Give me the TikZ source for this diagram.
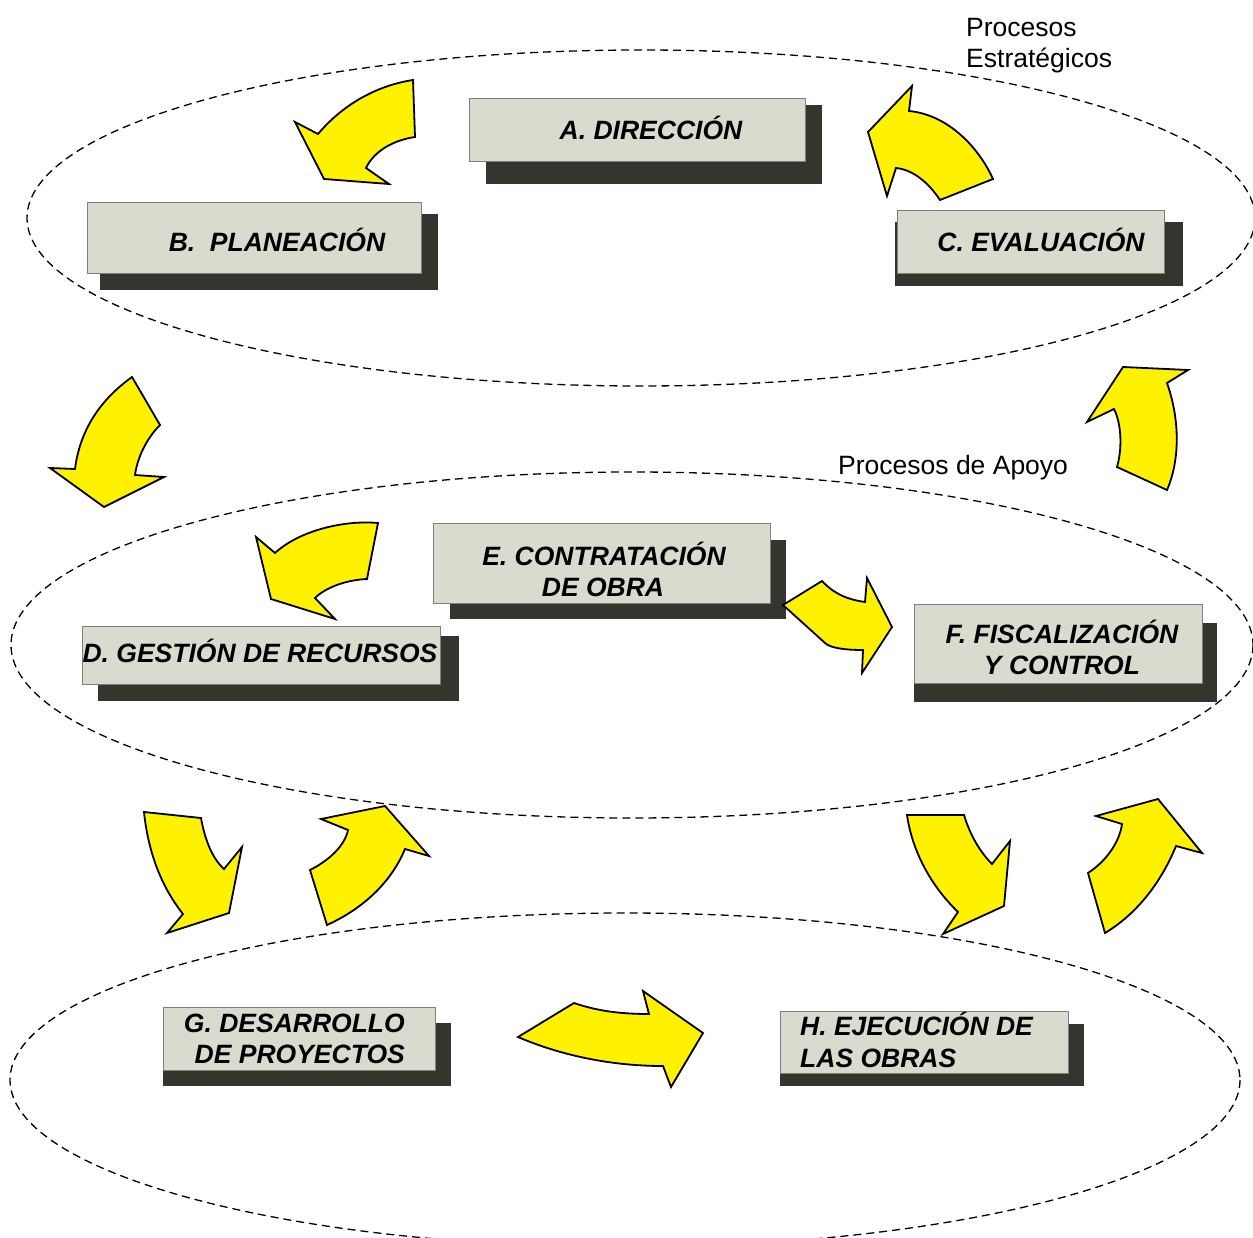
\documentclass[tikz,border=0pt]{standalone}
\usepackage{fontspec}
\setmainfont{Liberation Sans}
\begin{document}
\begin{tikzpicture}[x=1pt,y=-1pt,
  ell/.style={draw=black,line width=1.3pt,dash pattern=on 8pt off 5pt},
  front/.style={fill=boxfill,draw=boxline,line width=1pt},
  shadow/.style={fill=shadowc},
  lbl/.style={font=\fontsize{26.5}{31}\selectfont\bfseries\itshape,inner sep=0pt,anchor=base},
  grouplbl/.style={font=\fontsize{26.5}{30}\selectfont,inner sep=0pt,anchor=base west},
  yarrow/.style={fill=yellow,draw=black,line width=1.8pt,line join=miter}]
\definecolor{boxfill}{HTML}{DBDACE}
\definecolor{boxline}{HTML}{7F7F7F}
\definecolor{shadowc}{HTML}{36352D}
\useasboundingbox (0,0) rectangle (1253,1238);
\clip (0,0) rectangle (1253,1238);
\fill[white] (0,0) rectangle (1253,1238);

% ellipses
\draw[ell] (641,218) ellipse [x radius=614, y radius=168];
\draw[ell] (632,645) ellipse [x radius=621, y radius=173];
\draw[ell] (625,1080) ellipse [x radius=615, y radius=167];

% labels
\node[grouplbl] (lp1) at (966,37) {Procesos};
\node[grouplbl] (lp2) at (966,68) {Estratégicos};
\node[grouplbl] (lp3) at (838,474) {Procesos de Apoyo};

% A
\fill[shadow] (486,105) rectangle (822,184);
\draw[front] (469,99) rectangle (805,162);
\node[lbl] (A) at (651,140) {A. DIRECCIÓN};
% B
\fill[shadow] (100,214) rectangle (438,290);
\draw[front] (87,203) rectangle (421,274);
\node[lbl] (B) at (277,252) {B.\ \ PLANEACIÓN};
% C
\fill[shadow] (895,222) rectangle (1183,286);
\draw[front] (897,211) rectangle (1164,274);
\node[lbl] (C) at (1041,252) {C. EVALUACIÓN};
% E
\fill[shadow] (450,540) rectangle (786,619);
\draw[front] (433,523) rectangle (770,603);
\node[lbl] (E1) at (604,565) {E. CONTRATACIÓN};
\node[lbl] (E2) at (603,596) {DE OBRA};
% D
\fill[shadow] (98,636) rectangle (459,701);
\draw[front] (82,626) rectangle (440,684);
\node[lbl] (D) at (260,662) {D. GESTIÓN DE RECURSOS};
% F
\fill[shadow] (914,623) rectangle (1217,702);
\draw[front] (914,604) rectangle (1202,683);
\node[lbl] (F1) at (1062,643) {F. FISCALIZACIÓN};
\node[lbl] (F2) at (1062,674) {Y CONTROL};
% G
\fill[shadow] (163,1023) rectangle (451,1086);
\draw[front] (163,1007) rectangle (435,1070);
\node[lbl,anchor=base east] (G1) at (405,1032) {G. DESARROLLO};
\node[lbl,anchor=base east] (G2) at (405,1063) {DE PROYECTOS};
% H
\fill[shadow] (780,1024) rectangle (1084,1086);
\draw[front] (780,1011) rectangle (1068,1073);
\node[lbl,anchor=base west] (H1) at (800,1035) {H. EJECUCIÓN DE};
\node[lbl,anchor=base west] (H2) at (800,1067) {LAS OBRAS};

% arrows
% A -> B
\draw[yarrow] (413,80) -- (415,137) .. controls (388,141) and (372,155) .. (366,168)
  -- (389,184) -- (324,179) -- (295,122) -- (318,134)
  .. controls (345,102) and (380,85) .. cycle;
% C -> A
\draw[yarrow] (912,86) -- (909,111) .. controls (950,115) and (980,150) .. (993,179)
  -- (940,200) .. controls (930,185) and (915,170) .. (896,168)
  -- (887,196) -- (868,132) -- cycle;
% B -> D
\draw[yarrow] (132,377) -- (160,425) .. controls (145,440) and (137,460) .. (135,475)
  -- (164,477) -- (104,507) -- (50,468) -- (75,469)
  .. controls (80,430) and (100,400) .. cycle;
% F -> C
\draw[yarrow] (1123,367) -- (1188,370) -- (1167,383)
  .. controls (1180,420) and (1180,460) .. (1167,490)
  -- (1117,467) .. controls (1122,450) and (1122,425) .. (1114,409)
  -- (1087,422) -- cycle;
% E -> D
\draw[yarrow] (378,523) -- (367,579) .. controls (345,580) and (325,588) .. (315,598)
  -- (335,619) -- (271,599) -- (256,537) -- (275,553)
  .. controls (300,530) and (345,520) .. cycle;
% E -> F
\draw[yarrow] (783,605) -- (822,581) .. controls (835,595) and (850,600) .. (865,602)
  -- (867,578) -- (892,627) -- (862,673) -- (863,650)
  .. controls (845,650) and (830,648) .. (825,643) -- cycle;
% D -> G
\draw[yarrow] (144,812) -- (201,818) .. controls (205,840) and (212,858) .. (224,869)
  -- (242,847) -- (229,913) -- (167,933) -- (183,914)
  .. controls (160,885) and (148,850) .. cycle;
% G -> D
\draw[yarrow] (327,925) -- (310,870) .. controls (330,860) and (345,845) .. (348,830)
  -- (321,819) -- (385,806) -- (429,856) -- (405,849)
  .. controls (390,885) and (360,910) .. cycle;
% F -> H
\draw[yarrow] (907,815) -- (964,815) .. controls (970,835) and (980,852) .. (992,864)
  -- (1010,841) -- (1004,906) -- (943,934) -- (958,912)
  .. controls (930,885) and (912,850) .. cycle;
% H -> F
\draw[yarrow] (1105,933) -- (1088,873) .. controls (1108,860) and (1120,840) .. (1122,824)
  -- (1096,816) -- (1158,799) -- (1202,853) -- (1176,846)
  .. controls (1160,885) and (1135,915) .. cycle;
% G -> H
\draw[yarrow] (518,1037) -- (574,1003) .. controls (600,1012) and (625,1014) .. (649,1014)
  -- (643,991) -- (703,1033) -- (671,1087) -- (663,1066)
  .. controls (610,1066) and (560,1055) .. cycle;
\end{tikzpicture}
\end{document}
